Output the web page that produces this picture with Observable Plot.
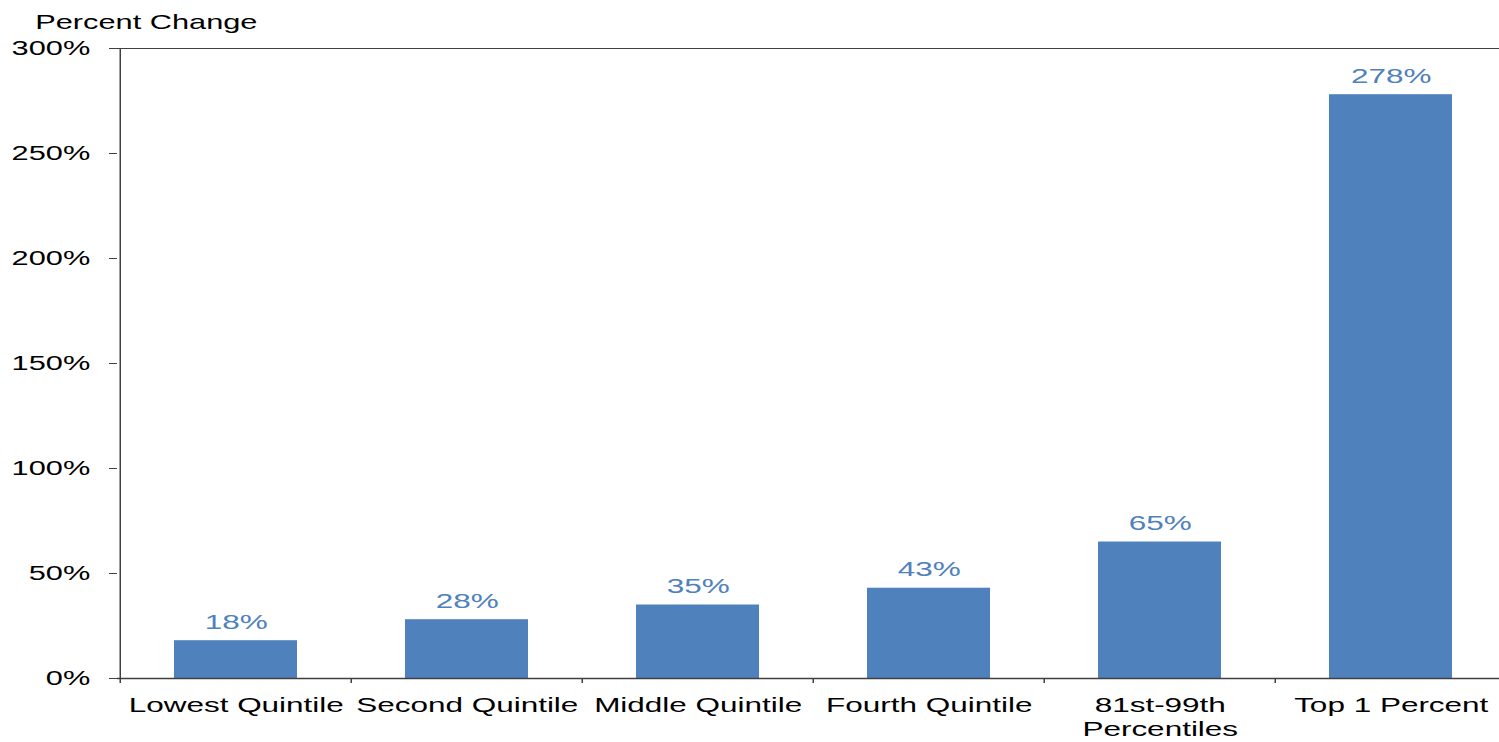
<!DOCTYPE html>
<html>
<head>
<meta charset="utf-8">
<script src="https://cdn.jsdelivr.net/npm/d3@7"></script>
<script src="https://cdn.jsdelivr.net/npm/@observablehq/plot@0.6"></script>
<style>
  body { margin: 0; background: #fff; }
</style>
</head>
<body>
<div id="chart"></div>
<script>
const categories = ["Lowest Quintile", "Second Quintile", "Middle Quintile", "Fourth Quintile", "81st-99th\nPercentiles", "Top 1 Percent"];
const values = [18, 28, 35, 43, 65, 278];
const valueLabels = ["18%", "28%", "35%", "43%", "65%", "278%"];
const yTicks = [0, 50, 100, 150, 200, 250, 300];
const yTitle = "Percent Change";

const data = categories.map((c, i) => ({category: c, value: values[i], label: valueLabels[i]}));

// The reference is stretched horizontally; draw at a narrower width and stretch.
const S = 1.5;
const W = 1499 / S;
const H = 742;
const left = 117 / S;
const right = 1509 / S;
const step = (right - left) / categories.length;
const axisColor = "#404040";
const barColor = "#4F81BD";

const chart = Plot.plot({
  width: W,
  height: H,
  marginTop: 48,
  marginBottom: 64,
  marginLeft: left,
  marginRight: 0,
  style: {fontFamily: "'Liberation Sans', Arial, Helvetica, sans-serif", fontSize: "20.5px", background: "#fff", color: "#000"},
  x: {domain: categories, range: [left, right], paddingInner: 0.466, paddingOuter: 0.233, align: 0.5},
  y: {domain: [0, 300]},
  marks: [
    Plot.barY(data, {x: "category", y: "value", fill: barColor}),
    Plot.ruleY([300], {stroke: axisColor, strokeWidth: 1.2}),
    Plot.ruleY([0], {stroke: axisColor, strokeWidth: 1.4}),
    Plot.ruleX([categories[0]], {dx: -step / 2, stroke: axisColor, strokeWidth: 1, insetBottom: -5}),
    Plot.ruleX(categories.slice(1), {dx: -step / 2, y1: 0, y2: 0, insetBottom: -5, stroke: axisColor, strokeWidth: 1}),
    Plot.axisY({ticks: yTicks, tickSize: 8 / S, tickPadding: 13, tickFormat: d => d + "%", label: null, stroke: axisColor, fill: "#000"}),
    Plot.axisX({tickSize: 0, tickPadding: 17, label: null, lineHeight: 1.12, fill: "#000", fontSize: 21}),
    Plot.text(data, {x: "category", y: "value", text: "label", dy: -12, lineAnchor: "bottom", fill: barColor, fontSize: 21}),
    Plot.text([yTitle], {frameAnchor: "top-left", textAnchor: "start", lineAnchor: "top", dx: 23 - left, dy: -34, fill: "#000"})
  ]
});

chart.setAttribute("width", 1499);
chart.setAttribute("height", H);
chart.setAttribute("viewBox", `0 0 ${W} ${H}`);
chart.setAttribute("preserveAspectRatio", "none");
chart.style.maxWidth = "none";
chart.style.width = "1499px";
chart.style.height = H + "px";
document.getElementById("chart").appendChild(chart);
</script>
</body>
</html>
